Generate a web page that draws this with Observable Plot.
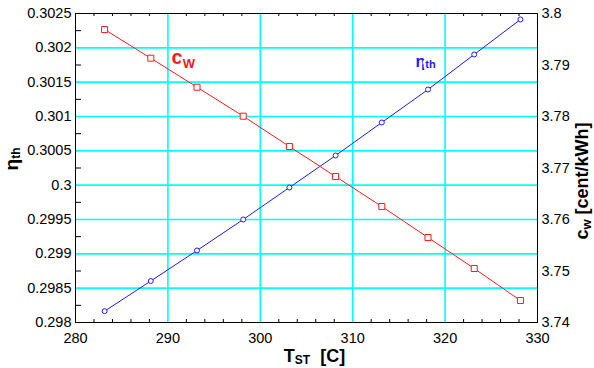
<!DOCTYPE html>
<html>
<head>
<meta charset="utf-8">
<script src="https://cdn.jsdelivr.net/npm/d3@7"></script>
<script src="https://cdn.jsdelivr.net/npm/@observablehq/plot@0.6"></script>
<style>
  html, body { margin: 0; padding: 0; background: white; }
  #wrap { position: relative; width: 594px; height: 368px; overflow: hidden; }
  #wrap svg { position: absolute; left: 0; top: 0; }
</style>
</head>
<body>
<div id="wrap"></div>
<script>
// ---- data ----
const tst = [283.15, 288.15, 293.15, 298.15, 303.15, 308.15, 313.15, 318.15, 323.15, 328.15];
const etaTh = [0.298165, 0.298604, 0.299049, 0.2995, 0.299966, 0.300432, 0.300913, 0.301393, 0.301903, 0.302413];
const cW = [3.79689, 3.79132, 3.78569, 3.78006, 3.77417, 3.76835, 3.76252, 3.7565, 3.75049, 3.74427];

const xTicks = [280, 290, 300, 310, 320, 330];
const xGrid = [290, 300, 310, 320];
const xMinor = d3.range(282, 330, 2).filter(v => v % 10 !== 0);
const yLeftTicks = [0.298, 0.2985, 0.299, 0.2995, 0.3, 0.3005, 0.301, 0.3015, 0.302, 0.3025];
const yLeftGrid = [0.2985, 0.299, 0.2995, 0.3, 0.3005, 0.301, 0.3015, 0.302];
const yLeftMinor = yLeftTicks.slice(0, -1).map(v => v + 0.00025);
const yRightTicks = [3.74, 3.75, 3.76, 3.77, 3.78, 3.79, 3.80];

const etaData = tst.map((t, i) => ({t, v: etaTh[i]}));
const cwData = tst.map((t, i) => ({t, v: cW[i]}));

// ---- layout ----
const W = 594, H = 368;
const M = {top: 13, right: 57, bottom: 46, left: 75};
const FW = W - M.left - M.right, FH = H - M.top - M.bottom;
const FONT = "'Liberation Sans', Arial, Helvetica, sans-serif";
const GRID = {stroke: "#00ffff", strokeOpacity: 1, strokeWidth: 1.6};
const BLUE = "#1a1aff", RED = "#ff1a1a";

const common = {
  width: W, height: H,
  marginTop: M.top, marginRight: M.right, marginBottom: M.bottom, marginLeft: M.left,
  style: {fontFamily: FONT, fontSize: "14.5px", color: "black", background: "transparent", overflow: "visible"}
};

const p1 = Plot.plot({
  ...common,
  x: {domain: [280, 330]},
  y: {domain: [0.298, 0.3025]},
  marks: [
    Plot.gridX(xGrid, GRID),
    Plot.gridY(yLeftGrid, GRID),
    Plot.tickX(xMinor, {x: d => d, insetTop: FH - 3, stroke: "black"}),
    Plot.tickX(xMinor, {x: d => d, insetBottom: FH - 3, stroke: "black"}),
    Plot.tickY(yLeftMinor, {y: d => d, insetRight: FW - 6, stroke: "black"}),
    Plot.frame({stroke: "black"}),
    Plot.axisX(xTicks, {tickSize: 0, tickPadding: 10, label: null, fontSize: 14.5}),
    Plot.axisY(yLeftTicks, {tickSize: 0, tickPadding: 4, label: null, fontSize: 14.5,
      tickFormat: d => String(+d.toFixed(4))}),
    Plot.line(etaData, {x: "t", y: "v", stroke: BLUE, strokeWidth: 1}),
    Plot.dot(etaData, {x: "t", y: "v", r: 2.5, symbol: "circle", fill: "white", stroke: BLUE, strokeWidth: 1}),
    Plot.text(["LBL_ETA"], {frameAnchor: "top-left", dx: 340, dy: 53, textAnchor: "start", lineAnchor: "bottom",
      fill: BLUE, stroke: "white", strokeWidth: 5, fontWeight: "bold", fontSize: 16}),
    Plot.text(["TTL_LEFT"], {frameAnchor: "left", dx: -58, dy: -9, rotate: -90, textAnchor: "middle", lineAnchor: "bottom",
      fill: "black", fontWeight: "bold", fontSize: 19}),
    Plot.text(["TTL_X"], {frameAnchor: "bottom", dx: 8, dy: 39.5, textAnchor: "middle", lineAnchor: "bottom",
      fill: "black", fontWeight: "bold", fontSize: 18})
  ]
});

const p2 = Plot.plot({
  ...common,
  x: {domain: [280, 330], axis: null},
  y: {domain: [3.74, 3.80]},
  marks: [
    Plot.axisY(yRightTicks, {anchor: "right", tickSize: 0, tickPadding: 4, label: null, fontSize: 14.5,
      tickFormat: d => String(+d.toFixed(2))}),
    Plot.line(cwData, {x: "t", y: "v", stroke: RED, strokeWidth: 1}),
    Plot.dot(cwData, {x: "t", y: "v", r: 3.4, symbol: "square", fill: "white", stroke: RED, strokeWidth: 1}),
    Plot.text(["LBL_CW"], {frameAnchor: "top-left", dx: 96, dy: 50, textAnchor: "start", lineAnchor: "bottom",
      fill: RED, stroke: "white", strokeWidth: 5, fontWeight: "bold", fontSize: 20}),
    Plot.text(["TTL_RIGHT"], {frameAnchor: "right", dx: 50, dy: 13, rotate: -90, textAnchor: "middle", lineAnchor: "bottom",
      fill: "black", fontWeight: "bold", fontSize: 18})
  ]
});

// rich text (subscripts)
const rich = {
  LBL_ETA: [{t: "η"}, {t: "th", size: 11, dy: 1}],
  LBL_CW: [{t: "c"}, {t: "W", size: 13, dy: 4}],
  TTL_LEFT: [{t: "η"}, {t: "th", size: 12, dy: 2}],
  TTL_X: [{t: "T"}, {t: "ST", size: 12, dy: 2}, {t: "  [C]"}],
  TTL_RIGHT: [{t: "c"}, {t: "w", size: 13, dy: 3}, {t: " [cent/kWh]"}]
};
function applyRich(svg) {
  d3.select(svg).selectAll("text").each(function() {
    const key = this.textContent;
    if (!rich[key]) return;
    const el = d3.select(this);
    el.text(null).style("white-space", "pre");
    let cur = 0;
    for (const p of rich[key]) {
      const dy = (p.dy || 0) - cur;
      const ts = el.append("tspan").text(p.t);
      if (dy) ts.attr("dy", dy);
      if (p.size) ts.attr("font-size", p.size);
      cur = p.dy || 0;
    }
  });
}
applyRich(p1);
applyRich(p2);

const wrap = document.getElementById("wrap");
wrap.append(p1, p2);
</script>
</body>
</html>
